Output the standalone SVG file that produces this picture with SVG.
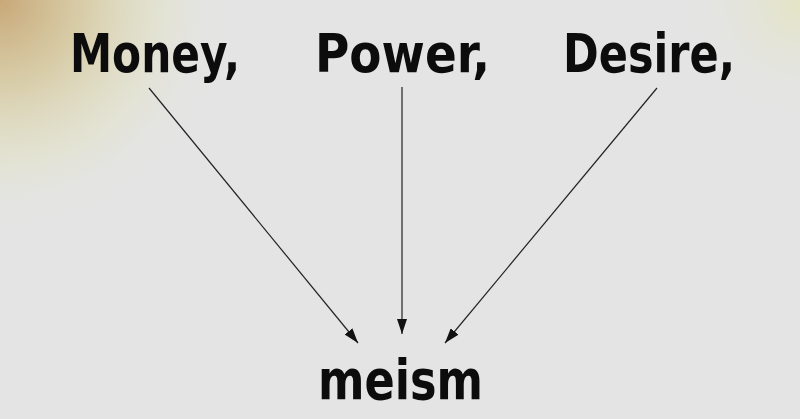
<svg xmlns="http://www.w3.org/2000/svg" width="800" height="419" viewBox="0 0 800 419">
<defs>
<radialGradient id="tl" cx="0" cy="0" r="230" gradientUnits="userSpaceOnUse">
<stop offset="0" stop-color="#c8a878"/>
<stop offset="0.35" stop-color="#d6c9a0" stop-opacity="0.9"/>
<stop offset="0.7" stop-color="#e2e2c8" stop-opacity="0.6"/>
<stop offset="1" stop-color="#e4e4e4" stop-opacity="0"/>
</radialGradient>
<radialGradient id="tr" cx="800" cy="0" r="120" gradientUnits="userSpaceOnUse">
<stop offset="0" stop-color="#e4e4c4"/>
<stop offset="1" stop-color="#e4e4e4" stop-opacity="0"/>
</radialGradient>
<marker id="ah" viewBox="0 0 15 10" refX="15" refY="5" markerWidth="15" markerHeight="10" markerUnits="userSpaceOnUse" orient="auto">
<path d="M0,0 L15,5 L0,10 Z" fill="#111"/>
</marker>
<style>
.lbl{font-family:"DejaVu Sans Condensed","DejaVu Sans",sans-serif;font-weight:bold;font-size:54px;fill:#0c0c0c}
.edge{stroke:#222;stroke-width:1.2;fill:none;marker-end:url(#ah)}
</style>
</defs>
<rect width="800" height="419" fill="#e4e4e4"/>
<rect width="800" height="419" fill="url(#tl)"/>
<rect width="800" height="419" fill="url(#tr)"/>
<g id="connectors">
<line class="edge" x1="149" y1="88" x2="358" y2="343"/>
<line class="edge" x1="402" y1="87" x2="402" y2="334"/>
<line class="edge" x1="657" y1="88" x2="445" y2="343"/>
</g>
<g id="money"><text class="lbl" x="70" y="72" textLength="170" lengthAdjust="spacingAndGlyphs">Money,</text></g>
<g id="power"><text class="lbl" x="315" y="72" textLength="175" lengthAdjust="spacingAndGlyphs">Power,</text></g>
<g id="desire"><text class="lbl" x="563" y="72" textLength="172" lengthAdjust="spacingAndGlyphs">Desire,</text></g>
<g id="meism"><text class="lbl" x="318" y="399" textLength="165" lengthAdjust="spacingAndGlyphs" style="font-size:56px">meism</text></g>
</svg>
